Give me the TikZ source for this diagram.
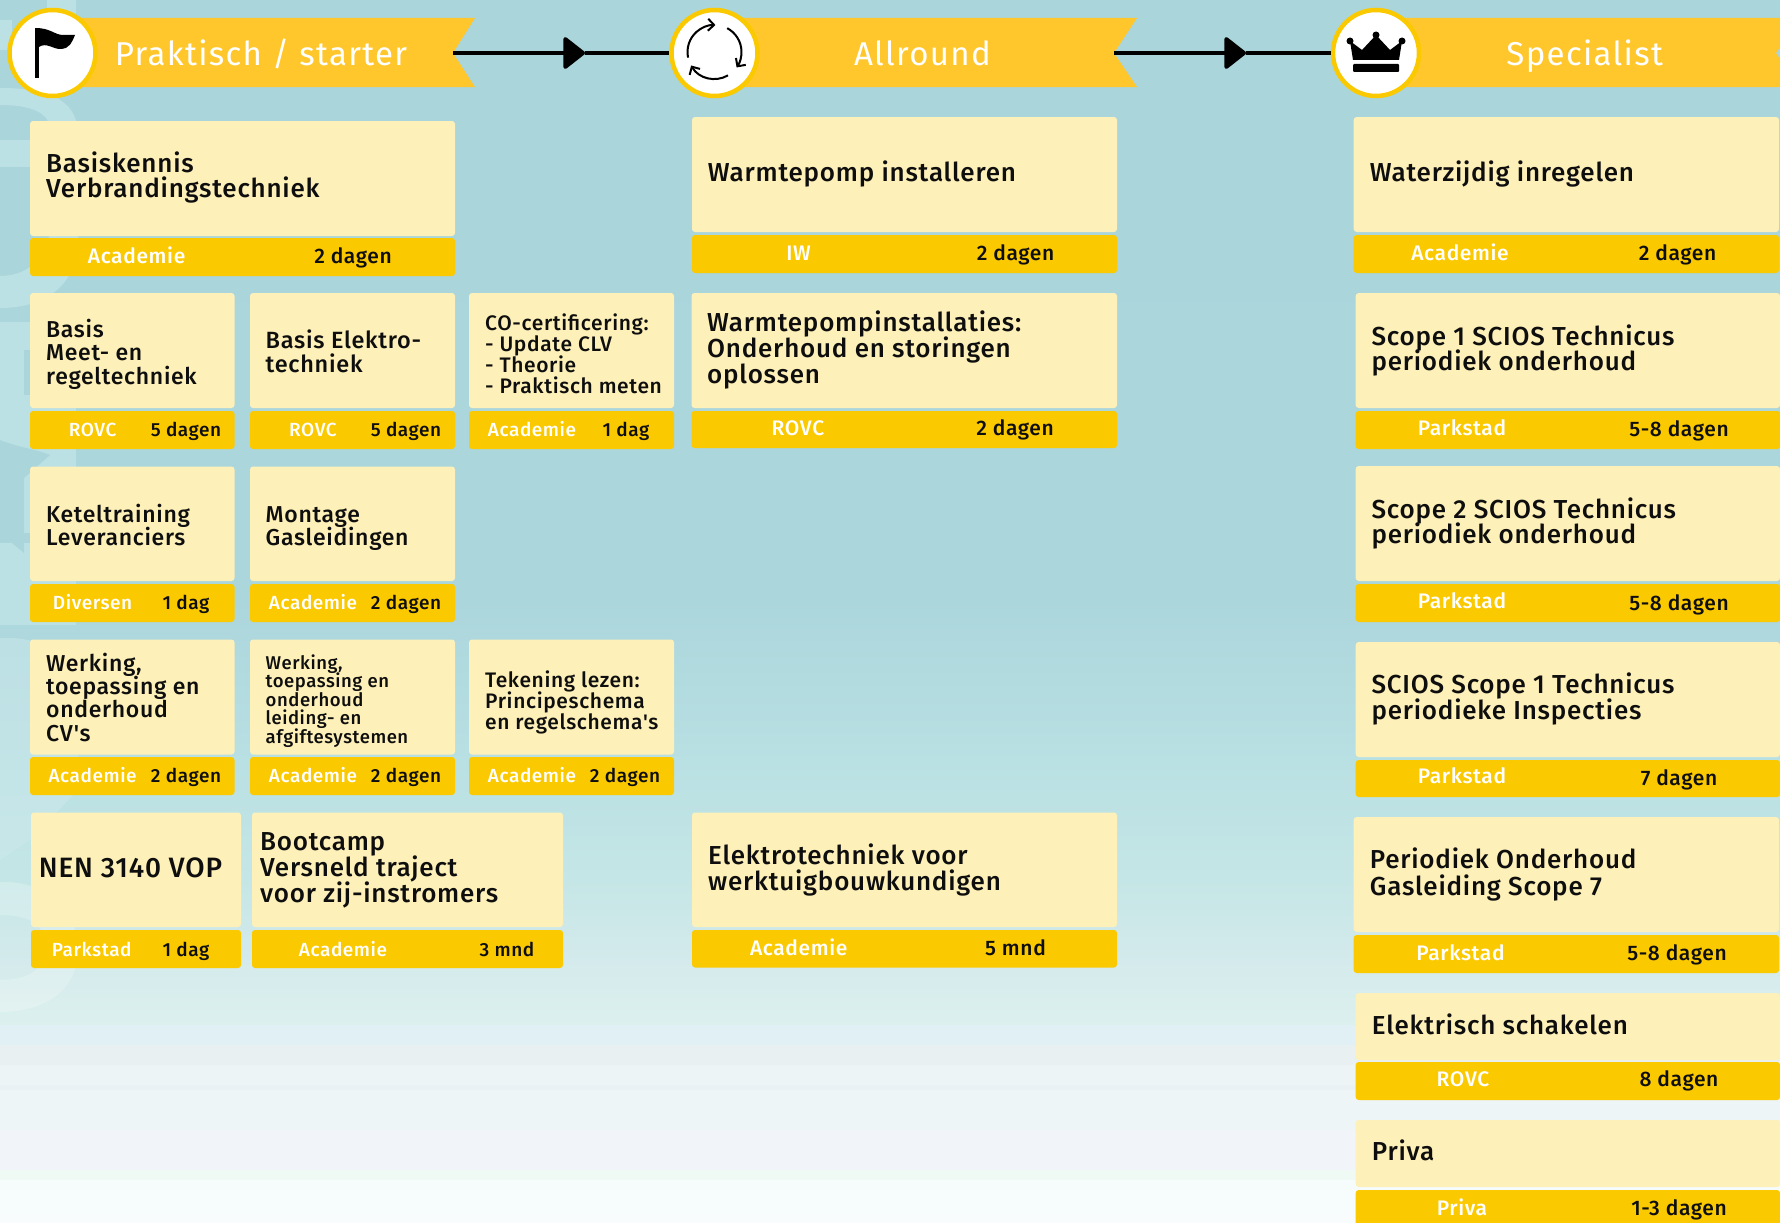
\documentclass[tikz,border=0pt]{standalone}
\usepackage{fontspec}
\setmainfont{Fira Sans}[LetterSpace=4]
\newfontfamily\medfont{Fira Sans Medium}[LetterSpace=3]
\usetikzlibrary{arrows.meta}
\definecolor{bgA}{HTML}{AAD5DB}
\definecolor{wmA}{HTML}{BBE1E5}
\definecolor{banner}{HTML}{FFC72C}
\definecolor{footy}{HTML}{FBC900}
\definecolor{cardy}{HTML}{FDF0B8}
\definecolor{inky}{HTML}{0E0E0E}
\tikzset{
  cardbox/.style={fill=cardy,rounded corners=3pt,inner sep=0pt,outer sep=0pt},
  footbox/.style={fill=footy,rounded corners=3pt,inner sep=0pt,outer sep=0pt},
  iconring/.style={circle,draw=footy,fill=white,line width=4.5pt,minimum size=86pt,inner sep=0pt},
  flow/.style={line width=4pt,draw=black},
  cyc/.style={line width=2pt,draw=black,-{Straight Barb[length=6pt,width=12pt]}},
  wm/.style={fill=wmA}
}
% box helpers: name, x0, y0, x1, y1
\newcommand\cardnode[5]{\node[cardbox,minimum width={(#4-#2)*1pt},minimum height={(#5-#3)*1pt}] (#1) at ({(#2+#4)/2},{(#3+#5)/2}) {};}
\newcommand\footnode[5]{\node[footbox,minimum width={(#4-#2)*1pt},minimum height={(#5-#3)*1pt}] (#1) at ({(#2+#4)/2},{(#3+#5)/2}) {};}
% title: name, x, first baseline, size, leading, lines
\newcommand\ttl[6]{\node[anchor=base west,inner sep=0pt,text=inky,xshift=-1pt] (#1) at (#2,#3) {\fontsize{#4}{#5}\selectfont\medfont\vtop{\lineskiplimit=-100pt\baselineskip=#5pt\let\\\cr\halign{##\hfil\cr #6\cr}}};}
% footer label: name, centre x, baseline, size, colour, text
\newcommand\lab[6]{\node[anchor=base,inner sep=0pt,text=#5] (#1) at (#2,#3) {\fontsize{#4}{#4}\selectfont\medfont #6};}
\newcommand\hdr[3]{\node[anchor=base,inner sep=0pt,text=white] (#1) at (#2,65.7) {\fontsize{33}{33}\selectfont #3};}
\begin{document}
\begin{tikzpicture}[x=1pt,y=-1pt]
\useasboundingbox (0,0) rectangle (1780,1223);
% background bands
\foreach \ya/\yb/\ca/\cb in {
  0/600/AAD5DB/ABD6DC, 600/760/ABD6DC/B9E0E3, 760/880/B9E0E3/C5E6E6, 880/960/C5E6E6/D4EAEC,
  960/1025/D4EAEC/DCF1EE, 1025/1045/E0F0F5/E1F0F5, 1045/1065/E8F0F1/E8F0F1, 1065/1085/EDF4F6/EDF4F6,
  1085/1090/EAF1F5/EAF1F5, 1090/1130/EEF5F6/EEF5F6,
  1130/1170/F1F5FA/F1F5FA, 1170/1180/F0FAF4/F0FAF4, 1180/1223/F6FCFC/F8FCFD}{
  \definecolor{cA}{HTML}{\ca}\definecolor{cB}{HTML}{\cb}
  \shade[top color=cA,bottom color=cB,shading angle=0] (0,\ya) rectangle (1780,\yb+1);
}
% faint watermark shapes at the left edge
\fill[wm] (47,0) rectangle (76,60);
\fill[wm] (0,20) rectangle (12,50);
\fill[wm] (0,88) .. controls (40,88) and (78,95) .. (78,135) -- (78,240) .. controls (78,285) and (45,308) .. (0,308) -- (0,276) .. controls (30,276) and (50,255) .. (50,225) -- (50,130) .. controls (50,112) and (30,105) .. (0,105) -- cycle;
\fill[wm] (0,140) rectangle (30,167);
\fill[wm] (0,322) rectangle (76,625);
\fill[bgA] (24,350) rectangle (30,395);
\fill[bgA] (0,440) .. controls (20,448) and (40,450) .. (50,455) -- (24,478) -- (24,553) -- (0,533) -- cycle;
\fill[bgA] (0,533) rectangle (76,543);
\fill[wmA!70!white,opacity=.45] (0,638) .. controls (35,636) and (78,650) .. (78,700) -- (78,790) -- (30,840) -- (0,860) -- cycle;
\fill[white,opacity=.22] (0,882) .. controls (45,880) and (78,910) .. (78,950) .. controls (78,990) and (45,1012) .. (0,1012) -- (0,980) .. controls (35,980) and (45,965) .. (45,945) .. controls (45,925) and (30,915) .. (0,915) -- cycle;
% banners
\coordinate (tipA) at (453,53);
\coordinate (tipB) at (1114,53);
\fill[banner] (52,18) -- (475,18) -- (tipA) -- (475,87) -- (52,87) -- cycle;
\fill[banner] (714,18) -- (1137,18) -- (tipB) -- (1137,87) -- (714,87) -- cycle;
\fill[banner] (1376,18) -- (1780,18) -- (1780,47) -- (1776,53) -- (1780,59) -- (1780,87) -- (1376,87) -- cycle;
% icon rings
\node[iconring] (ringA) at (52.5,53) {};
\node[iconring] (ringB) at (714.5,53) {};
\node[iconring] (ringC) at (1376,53) {};
% connectors
\coordinate (headA) at (585,53);
\coordinate (headB) at (1246,53);
\draw[flow,-{Triangle[length=23pt,width=35pt,round]}] (tipA) -- (headA);
\draw[flow] (headA) -- (ringB);
\draw[flow,-{Triangle[length=23pt,width=35pt,round]}] (tipB) -- (headB);
\draw[flow] (headB) -- (ringC);
% flag icon
\fill[black] (35,28) rectangle (39,78);
\fill[black] (36,28) .. controls (50,28) and (55,35) .. (63,35) -- (75,35) .. controls (72,42) and (70,49) .. (60,49) .. controls (53,49) and (46,42) .. (39,47) -- cycle;
% cycle icon
\draw[cyc] (714.5,52) ++(192:27pt) arc[start angle=192,end angle=88,radius=27pt];
\draw[cyc] (714.5,52) ++(62:27pt) arc[start angle=62,end angle=-35,radius=27pt];
\draw[cyc] (714.5,52) ++(-60:27pt) arc[start angle=-60,end angle=-150,radius=27pt];
% crown icon
\fill[black,rounded corners=1pt] (1353,64) rectangle (1399,72);
\fill[black] (1353,60) -- (1399,60) -- (1402,41) -- (1390,50) -- (1376,35) -- (1362,50) -- (1350,41) -- cycle;
\foreach \cx/\cy in {1350/41,1376/35,1402/41}{\fill[black] (\cx,\cy) circle[radius=3.5pt];}
% headers
\hdr{hA}{261}{Praktisch / starter}
\hdr{hB}{922.4}{Allround}
\hdr{hC}{1584.7}{Specialist}
% column 1 cards
\cardnode{c1}{30}{121}{455}{236}\footnode{f1}{30}{238}{455}{276}
\ttl{t1}{47}{172}{26}{25.5}{Basiskennis\\Verbrandingstechniek}
\lab{l1a}{136.6}{263}{21}{white}{Academie}\lab{l1b}{353}{263}{21}{inky}{2 dagen}

\cardnode{c2}{30}{293}{234.5}{408}\footnode{f2}{30}{411}{234.5}{449}
\ttl{t2}{47}{337}{23}{23.5}{Basis\\Meet- en\\regeltechniek}
\lab{l2a}{92.6}{436}{19}{white}{ROVC}\lab{l2b}{186}{436}{19}{inky}{5 dagen}

\cardnode{c3}{250}{293}{455}{408}\footnode{f3}{250}{411}{455}{449}
\ttl{t3}{266.5}{348}{23.5}{24}{Basis Elektro-\\techniek}
\lab{l3a}{313}{436}{19}{white}{ROVC}\lab{l3b}{406}{436}{19}{inky}{5 dagen}

\cardnode{c4}{469}{293}{674}{408}\footnode{f4}{469}{411}{674}{449}
\ttl{t4}{486}{330}{21}{21}{CO-certificering:\\- Update CLV\\- Theorie\\- Praktisch meten}
\lab{l4a}{532}{436}{19}{white}{Academie}\lab{l4b}{626}{436}{19}{inky}{1 dag}

\cardnode{c5}{30}{466.5}{234.5}{581}\footnode{f5}{30}{584}{234.5}{622}
\ttl{t5}{47}{522}{23}{23.5}{Keteltraining\\Leveranciers}
\lab{l5a}{92.6}{609.6}{19}{white}{Diversen}\lab{l5b}{186}{609.6}{19}{inky}{1 dag}

\cardnode{c6}{250}{466.5}{455}{581}\footnode{f6}{250}{584}{455}{622}
\ttl{t6}{266.5}{522}{23}{23.5}{Montage\\Gasleidingen}
\lab{l6a}{313}{609.6}{19}{white}{Academie}\lab{l6b}{406}{609.6}{19}{inky}{2 dagen}

\cardnode{c7}{30}{639.5}{234.5}{754.5}\footnode{f7}{30}{757}{234.5}{795}
\ttl{t7}{47}{671}{23}{23.4}{Werking,\\toepassing en\\onderhoud\\CV's}
\lab{l7a}{92.6}{782.6}{19}{white}{Academie}\lab{l7b}{186}{782.6}{19}{inky}{2 dagen}

\cardnode{c8}{250}{639.5}{455}{754.5}\footnode{f8}{250}{757}{455}{795}
\ttl{t8}{266.5}{669}{18.5}{18.6}{Werking,\\toepassing en\\onderhoud\\leiding- en\\afgiftesystemen}
\lab{l8a}{313}{782.6}{19}{white}{Academie}\lab{l8b}{406}{782.6}{19}{inky}{2 dagen}

\cardnode{c9}{469}{639.5}{674}{754.5}\footnode{f9}{469}{757}{674}{795}
\ttl{t9}{486}{687}{21}{21}{Tekening lezen:\\Principeschema\\en regelschema's}
\lab{l9a}{532}{782.6}{19}{white}{Academie}\lab{l9b}{625}{782.6}{19}{inky}{2 dagen}

\cardnode{c10}{31}{812.5}{241}{927}\footnode{f10}{31}{930}{241}{968}
\ttl{t10}{39.7}{877}{28}{28}{NEN 3140 VOP}
\lab{l10a}{91.7}{956}{19}{white}{Parkstad}\lab{l10b}{186}{956}{19}{inky}{1 dag}

\cardnode{c11}{252}{812.5}{563}{927}\footnode{f11}{252}{930}{563}{968}
\ttl{t11}{261}{850.7}{26}{26}{Bootcamp\\Versneld traject\\voor zij-instromers}
\lab{l11a}{343}{956}{19}{white}{Academie}\lab{l11b}{507}{956}{19}{inky}{3 mnd}
% column 2 cards
\cardnode{c12}{692}{117}{1117}{232}\footnode{f12}{692}{235}{1117}{273}
\ttl{t12}{708.7}{181.7}{26}{26}{Warmtepomp installeren}
\lab{l12a}{798.5}{260}{21}{white}{IW}\lab{l12b}{1015.6}{260}{21}{inky}{2 dagen}

\cardnode{c13}{691.5}{293}{1117}{408}\footnode{f13}{691.5}{411}{1117}{448}
\ttl{t13}{708}{331.7}{26}{25.7}{Warmtepompinstallaties:\\Onderhoud en storingen\\oplossen}
\lab{l13a}{798}{435}{21}{white}{ROVC}\lab{l13b}{1015}{435}{21}{inky}{2 dagen}

\cardnode{c14}{692}{812.5}{1117}{927}\footnode{f14}{692}{930}{1117}{967.5}
\ttl{t14}{709}{864}{26}{26}{Elektrotechniek voor\\werktuigbouwkundigen}
\lab{l14a}{798.7}{955}{21}{white}{Academie}\lab{l14b}{1015.5}{955}{21}{inky}{5 mnd}
% column 3 cards
\cardnode{c15}{1353.7}{117}{1779}{232}\footnode{f15}{1353.7}{235}{1779}{273}
\ttl{t15}{1370.7}{181.7}{26}{26}{Waterzijdig inregelen}
\lab{l15a}{1460}{260}{21}{white}{Academie}\lab{l15b}{1677.5}{260}{21}{inky}{2 dagen}

\cardnode{c16}{1355.7}{293}{1780}{408}\footnode{f16}{1355.7}{411}{1780}{449}
\ttl{t16}{1372.3}{345}{26}{25.7}{Scope 1 SCIOS Technicus\\periodiek onderhoud}
\lab{l16a}{1462}{435.7}{21}{white}{Parkstad}\lab{l16b}{1679}{436.5}{21}{inky}{5-8 dagen}

\cardnode{c17}{1355.7}{466}{1780}{581}\footnode{f17}{1355.7}{584}{1780}{622}
\ttl{t17}{1372.3}{518}{26}{25.7}{Scope 2 SCIOS Technicus\\periodiek onderhoud}
\lab{l17a}{1462}{608.7}{21}{white}{Parkstad}\lab{l17b}{1679}{610}{21}{inky}{5-8 dagen}

\cardnode{c18}{1355.7}{642}{1780}{757}\footnode{f18}{1355.7}{760}{1780}{797}
\ttl{t18}{1372.3}{693.3}{26}{25.7}{SCIOS Scope 1 Technicus\\periodieke Inspecties}
\lab{l18a}{1462}{783}{21}{white}{Parkstad}\lab{l18b}{1679}{785.7}{21}{inky}{7 dagen}

\cardnode{c19}{1353.7}{817}{1779}{932}\footnode{f19}{1353.7}{935}{1779}{973}
\ttl{t19}{1370.7}{868.7}{26}{26.3}{Periodiek Onderhoud\\Gasleiding Scope 7}
\lab{l19a}{1460.5}{960}{21}{white}{Parkstad}\lab{l19b}{1677}{960}{21}{inky}{5-8 dagen}

\cardnode{c20}{1355.7}{993}{1780}{1060}\footnode{f20}{1355.7}{1062}{1780}{1100}
\ttl{t20}{1372.7}{1034}{26}{26}{Elektrisch schakelen}
\lab{l20a}{1463}{1086.7}{21}{white}{ROVC}\lab{l20b}{1679}{1086.7}{21}{inky}{8 dagen}

\cardnode{c21}{1355.7}{1120}{1780}{1187}\footnode{f21}{1355.7}{1190}{1780}{1228}
\ttl{t21}{1372.7}{1160.7}{26}{26}{Priva}
\lab{l21a}{1462}{1215}{21}{white}{Priva}\lab{l21b}{1679}{1215}{21}{inky}{1-3 dagen}
\end{tikzpicture}
\end{document}
